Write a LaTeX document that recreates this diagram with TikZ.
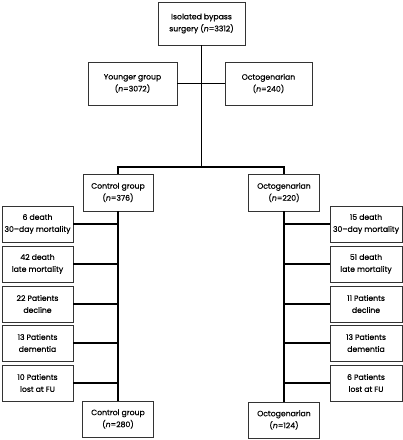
\documentclass[tikz,border=0pt]{standalone}
\usepackage{fontspec}
\setmainfont{Poppins}[FakeBold=0.6]
\begin{document}
\begin{tikzpicture}[x=1pt,y=-1pt,
  box/.style={draw=black!80,line width=0.9pt,fill=white,align=center,inner sep=0pt,
    font=\fontsize{7.7}{12}\selectfont},
  bigbox/.style={box,minimum width=87pt,minimum height=43pt},
  midbox/.style={box,minimum width=71pt,minimum height=37pt},
  sidebox/.style={box,minimum width=71pt,minimum height=36pt},
  link/.style={draw=black,line width=1.9pt}]
\useasboundingbox (0,0) rectangle (403,440);
\node[bigbox] (top) at (201.5,23.5) {Isolated bypass\\surgery (\textit{n}=3312)};
\node[bigbox,minimum width=89pt] (young) at (132.5,83.5) {Younger group\\(\textit{n}=3072)};
\node[bigbox] (octoA) at (268.5,83.5) {Octogenarian\\(\textit{n}=240)};
\node[midbox,minimum width=70pt] (ctrl) at (118,192.5) {Control group\\(\textit{n}=376)};
\node[midbox] (octoB) at (284,192.5) {Octogenarian\\(\textit{n}=220)};
\coordinate (split) at (201,167);
% left side
\node[sidebox] (l1) at (37.5,224) {6 death\\30--day mortality};
\node[sidebox] (l2) at (37.5,264) {42 death\\late mortality};
\node[sidebox] (l3) at (37.5,304) {22 Patients\\decline};
\node[sidebox] (l4) at (37.5,343) {13 Patients\\dementia};
\node[sidebox] (l5) at (37.5,383) {10 Patients\\lost at FU};
\node[sidebox] (ctrlB) at (118,419) {Control group\\(\textit{n}=280)};
% right side
\node[sidebox,minimum width=72pt] (r1) at (366,224) {15 death\\30--day mortality};
\node[sidebox,minimum width=72pt] (r2) at (366,264) {51 death\\late mortality};
\node[sidebox,minimum width=72pt] (r3) at (366,304) {11 Patients\\decline};
\node[sidebox,minimum width=72pt] (r4) at (366,343) {13 Patients\\dementia};
\node[sidebox,minimum width=72pt] (r5) at (366,383) {6 Patients\\lost at FU};
\node[sidebox] (octoC) at (284,420) {Octogenarian\\(\textit{n}=124)};
% connectors
\path[link] (top.south) -- (top.south |- split);
\path[link] (young.east) -- (octoA.west);
\path[link] (ctrl.north) |- (split) -| (octoB.north);
\path[link] (ctrl.south) -- (ctrlB.north);
\path[link] (octoB.south) -- (octoC.north);
\foreach \n in {l1,l2,l3,l4,l5} \path[link] (\n.east) -- (\n.east -| ctrl.south);
\foreach \n in {r1,r2,r3,r4,r5} \path[link] (\n.west) -- (\n.west -| octoB.south);
\end{tikzpicture}
\end{document}
